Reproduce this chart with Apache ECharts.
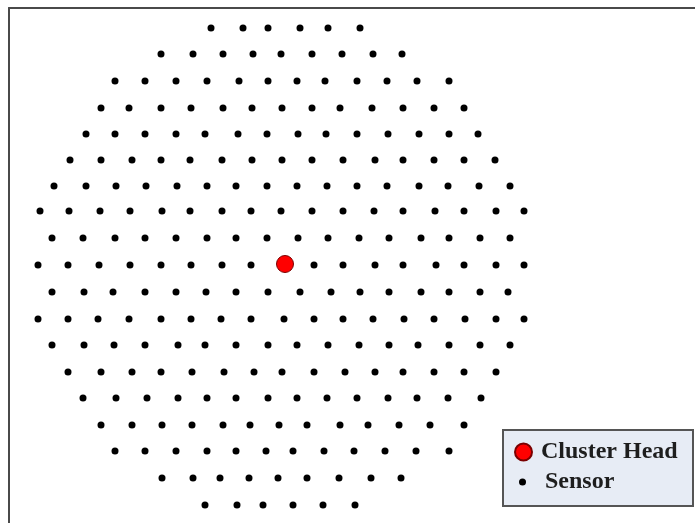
<!DOCTYPE html>
<html>
<head>
<meta charset="utf-8">
<script src="https://cdn.jsdelivr.net/npm/echarts@6/dist/echarts.min.js"></script>
<style>
  html, body { margin: 0; padding: 0; background: #fff; }
  #chart { width: 695px; height: 523px; }
</style>
</head>
<body>
<div id="chart"></div>
<script>
// y of each sensor row (px-like units)
const rowY = [28, 54, 81, 108, 134, 160, 186, 211, 238, 265, 292, 319, 345, 372, 398, 425, 451, 478, 505];

// x of each sensor in each row, top to bottom
const rowX = [
  [211, 243, 268, 300, 328, 360],
  [161, 193, 223, 253, 281, 312, 342, 373, 402],
  [115, 145, 176, 207, 239, 268, 297, 325, 357, 387, 417, 449],
  [101, 129, 161, 191, 223, 252, 282, 312, 340, 372, 403, 434, 464],
  [86, 115, 145, 176, 205, 238, 267, 298, 326, 357, 388, 419, 449, 478],
  [70, 101, 132, 161, 190, 222, 252, 282, 312, 343, 375, 403, 434, 464, 495],
  [54, 86, 116, 146, 177, 207, 236, 267, 297, 327, 357, 387, 419, 448, 479, 510],
  [40, 69, 100, 130, 162, 190, 222, 251, 281, 312, 343, 374, 403, 435, 464, 496, 524],
  [52, 83, 115, 145, 176, 207, 236, 267, 298, 328, 359, 389, 421, 449, 480, 510],
  [38, 68, 99, 130, 161, 191, 222, 251, 314, 343, 375, 403, 436, 464, 496, 524],
  [52, 84, 113, 145, 176, 206, 236, 268, 300, 331, 360, 389, 421, 449, 480, 508],
  [38, 68, 98, 129, 161, 191, 221, 251, 284, 314, 343, 373, 404, 434, 465, 496, 524],
  [52, 84, 114, 145, 178, 205, 236, 268, 297, 328, 359, 389, 418, 449, 480, 510],
  [68, 101, 132, 161, 192, 224, 254, 282, 314, 345, 375, 403, 434, 464, 496],
  [83, 116, 147, 178, 207, 236, 268, 297, 327, 357, 388, 417, 448, 481],
  [101, 132, 162, 192, 223, 250, 279, 307, 340, 368, 399, 430, 464],
  [115, 145, 176, 207, 236, 266, 293, 324, 354, 385, 416, 449],
  [162, 193, 220, 249, 278, 307, 339, 371, 401],
  [205, 237, 263, 293, 323, 355]
];

const clusterHead = [285, 264];

const sensors = [];
rowX.forEach(function (xs, i) {
  xs.forEach(function (x) {
    sensors.push([x, rowY[i]]);
  });
});

const chart = echarts.init(document.getElementById(`chart`));

const legendFont = {
  fontFamily: `"Liberation Serif", "DejaVu Serif", serif`,
  fontWeight: `bold`,
  fontSize: 24,
  color: `#1e1e1e`
};

const option = {
  animation: false,
  grid: { left: 9, top: 8, right: 0, bottom: 0 },
  xAxis: {
    type: `value`,
    min: 9,
    max: 695,
    position: `top`,
    axisLine: { show: true, onZero: false, lineStyle: { color: `#4a4a4a`, width: 2 } },
    axisTick: { show: false },
    axisLabel: { show: false },
    splitLine: { show: false }
  },
  yAxis: {
    type: `value`,
    min: 8,
    max: 523,
    inverse: true,
    position: `left`,
    axisLine: { show: true, onZero: false, lineStyle: { color: `#4a4a4a`, width: 2 } },
    axisTick: { show: false },
    axisLabel: { show: false },
    splitLine: { show: false }
  },
  graphic: [
    {
      type: `rect`,
      left: 502,
      top: 429,
      z: 0,
      shape: { width: 190, height: 76 },
      style: { fill: `#e7ecf5`, stroke: `#555`, lineWidth: 2 }
    }
  ],
  legend: [
    {
      data: [`Cluster Head`],
      left: 509,
      top: 435,
      icon: `circle`,
      itemWidth: 17,
      itemHeight: 17,
      textStyle: Object.assign({ padding: [0, 0, 0, 4] }, legendFont)
    },
    {
      data: [`Sensor`],
      left: 514,
      top: 465,
      icon: `circle`,
      itemWidth: 7,
      itemHeight: 7,
      textStyle: Object.assign({ padding: [0, 0, 0, 14] }, legendFont)
    }
  ],
  series: [
    {
      name: `Sensor`,
      type: `scatter`,
      symbol: `circle`,
      symbolSize: 7,
      itemStyle: { color: `#000`, opacity: 1 },
      data: sensors
    },
    {
      name: `Cluster Head`,
      type: `scatter`,
      symbol: `circle`,
      symbolSize: 17,
      itemStyle: { color: `#ff0000`, borderColor: `#7a0000`, borderWidth: 1, opacity: 1 },
      data: [clusterHead]
    }
  ]
};

chart.setOption(option);
</script>
</body>
</html>
